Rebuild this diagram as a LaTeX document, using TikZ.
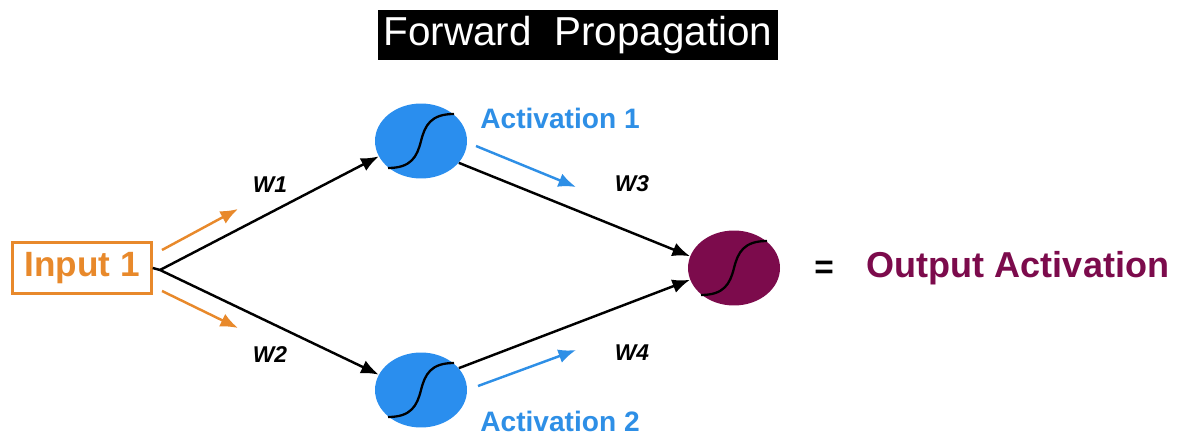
\documentclass[tikz,border=0pt]{standalone}
\usepackage{fontspec}
\setmainfont{Liberation Sans}
\usetikzlibrary{arrows.meta,shapes.geometric}
\definecolor{inorange}{HTML}{E8892B}
\definecolor{neuronblue}{HTML}{2A8EEE}
\definecolor{actblue}{HTML}{2E8FE6}
\definecolor{outmaroon}{HTML}{7C0B4C}
\tikzset{
  neuron/.style={ellipse, minimum width=1.84cm, minimum height=1.5cm, inner sep=0pt},
  weight/.style={black, line width=1.4pt, -{Latex[length=10pt,width=8pt]}},
  flow/.style={line width=1.4pt, -{Latex[length=10pt,width=8pt]}},
  wlabel/.style={font=\fontsize{13}{14}\selectfont\bfseries\itshape},
  actlabel/.style={text=actblue, font=\fontsize{16}{18}\selectfont\bfseries},
}
\begin{document}
\begin{tikzpicture}[x=0.02cm, y=-0.02cm]
\useasboundingbox (0,0) rectangle (1182,435);
% title
\node[fill=black, text=white, minimum width=8cm, minimum height=0.92cm,
      font=\fontsize{23}{25}\selectfont] (title) at (578,35) {Forward\ \ Propagation};
% input
\node[draw=inorange, line width=1.4pt, text=inorange, minimum width=2.78cm, minimum height=1.02cm,
      font=\fontsize{20}{22}\selectfont\bfseries] (in) at (82,268) {Input 1};
\coordinate (split) at (160,270);
% neurons
\node[neuron, fill=neuronblue] (h1) at (421,141) {};
\node[neuron, fill=neuronblue] (h2) at (421,390) {};
\node[neuron, fill=outmaroon] (out) at (734,268) {};
% sigmoid curves
\foreach \n in {h1,h2,out}{
  \draw[black, line width=1.3pt]
    ([shift={(-33,27)}]\n.center) .. controls ([shift={(-10,27)}]\n.center) and ([shift={(-4,16)}]\n.center) .. (\n.center)
    .. controls ([shift={(4,-16)}]\n.center) and ([shift={(10,-27)}]\n.center) .. ([shift={(33,-27)}]\n.center);
}
% weights
\draw[black, line width=1.4pt] (in.east) -- (split);
\draw[weight] (split) -- (h1.200);
\draw[weight] (split) -- (h2.160);
\draw[weight] (h1.330) -- (out.165);
\draw[weight] (h2.30) -- (out.195);
% signal flow arrows
\coordinate (o1s) at (162,250); \coordinate (o1e) at (238,209);
\coordinate (o2s) at (162,291); \coordinate (o2e) at (238,328);
\draw[flow, inorange] (o1s) -- (o1e);
\draw[flow, inorange] (o2s) -- (o2e);
\coordinate (b1s) at (476,146); \coordinate (b1e) at (576,187);
\coordinate (b2s) at (478,386); \coordinate (b2e) at (576,350);
\draw[flow, actblue] (b1s) -- (b1e);
\draw[flow, actblue] (b2s) -- (b2e);
% labels
\node[wlabel] (w1) at (270,185) {W1};
\node[wlabel] (w2) at (270,355) {W2};
\node[wlabel] (w3) at (632,184) {W3};
\node[wlabel] (w4) at (632,353) {W4};
\node[actlabel] (a1) at (560,118) {Activation 1};
\node[actlabel] (a2) at (560,421) {Activation 2};
\node[font=\fontsize{19}{20}\selectfont\bfseries] (eq) at (824,270) {=};
\node[text=outmaroon, font=\fontsize{20.5}{22}\selectfont\bfseries] (oa) at (1018,268) {Output Activation};
\end{tikzpicture}
\end{document}
